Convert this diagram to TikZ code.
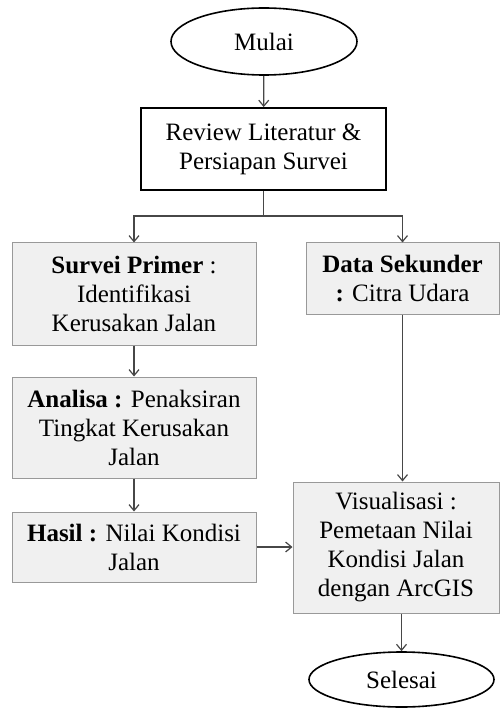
\documentclass[tikz,border=0pt]{standalone}
\usepackage{fontspec}
\setmainfont{Liberation Serif}
\usetikzlibrary{shapes.geometric, arrows.meta}
\tikzset{
  % basis voor alle blokjes
  blok/.style={%
    draw=black!40,
    fill=black!6,
    align=center,
    inner sep=3pt,
    line width=1pt,
    font=\fontsize{25}{29}\selectfont
  },
  % begin en einde
  ovaal/.style={blok, ellipse, fill=white, draw=black, line width=1.6pt},
  % het dikke witte blok
  voorbereid/.style={blok, fill=white, draw=black, line width=1.8pt},
  % pijl opmaak
  lijn/.style={line width=1.2pt, draw=black!72},
  pijl/.style={lijn, -{Straight Barb[length=6pt,width=10pt]}}
}

\begin{document}
\begin{tikzpicture}[x=1pt, y=-1pt]
  \useasboundingbox (0,0) rectangle (499,708);

  % --- blokken ---
  \node [ovaal, minimum width=186, minimum height=67] (mulai) at (264,41.5) {Mulai};

  \node [voorbereid, minimum width=245, minimum height=82] (review) at (263.5,149)
    {Review Literatur \&\\ Persiapan Survei};

  \node [blok, minimum width=244, minimum height=102] (primer) at (134,294)
    {\textbf{Survei Primer} :\\ Identifikasi\\ Kerusakan Jalan};

  \node [blok, minimum width=193, minimum height=71] (sekunder) at (402.5,278.5)
    {\textbf{Data Sekunder}\\ \textbf{:} Citra Udara};

  \node [blok, minimum width=244, minimum height=101] (analisa) at (134,427.5)
    {\textbf{Analisa :} Penaksiran\\ Tingkat Kerusakan\\ Jalan};

  \node [blok, minimum width=244, minimum height=70] (hasil) at (134,547)
    {\textbf{Hasil :} Nilai Kondisi\\ Jalan};

  \node [blok, minimum width=206, minimum height=131] (visual) at (396,547.5)
    {Visualisasi :\\ Pemetaan Nilai\\ Kondisi Jalan\\ dengan ArcGIS};

  \node [ovaal, minimum width=185, minimum height=55] (selesai) at (401.5,679.5) {Selesai};

  % --- pijlen ---
  \coordinate (splits) at (263.5,216);
  \draw [pijl] (mulai) -- (review);
  \draw [lijn] (review.south) -- (splits);
  \draw [pijl] (splits) -| (primer.north);
  \draw [pijl] (splits) -| (sekunder.north);
  \draw [pijl] (primer) -- (analisa);
  \draw [pijl] (analisa) -- (hasil);
  \draw [pijl] (sekunder.south) -- (sekunder.south |- visual.north);
  \draw [pijl] (hasil.east) -- (hasil.east -| visual.west);
  \draw [pijl] (selesai.north |- visual.south) -- (selesai.north);

\end{tikzpicture}
\end{document}
